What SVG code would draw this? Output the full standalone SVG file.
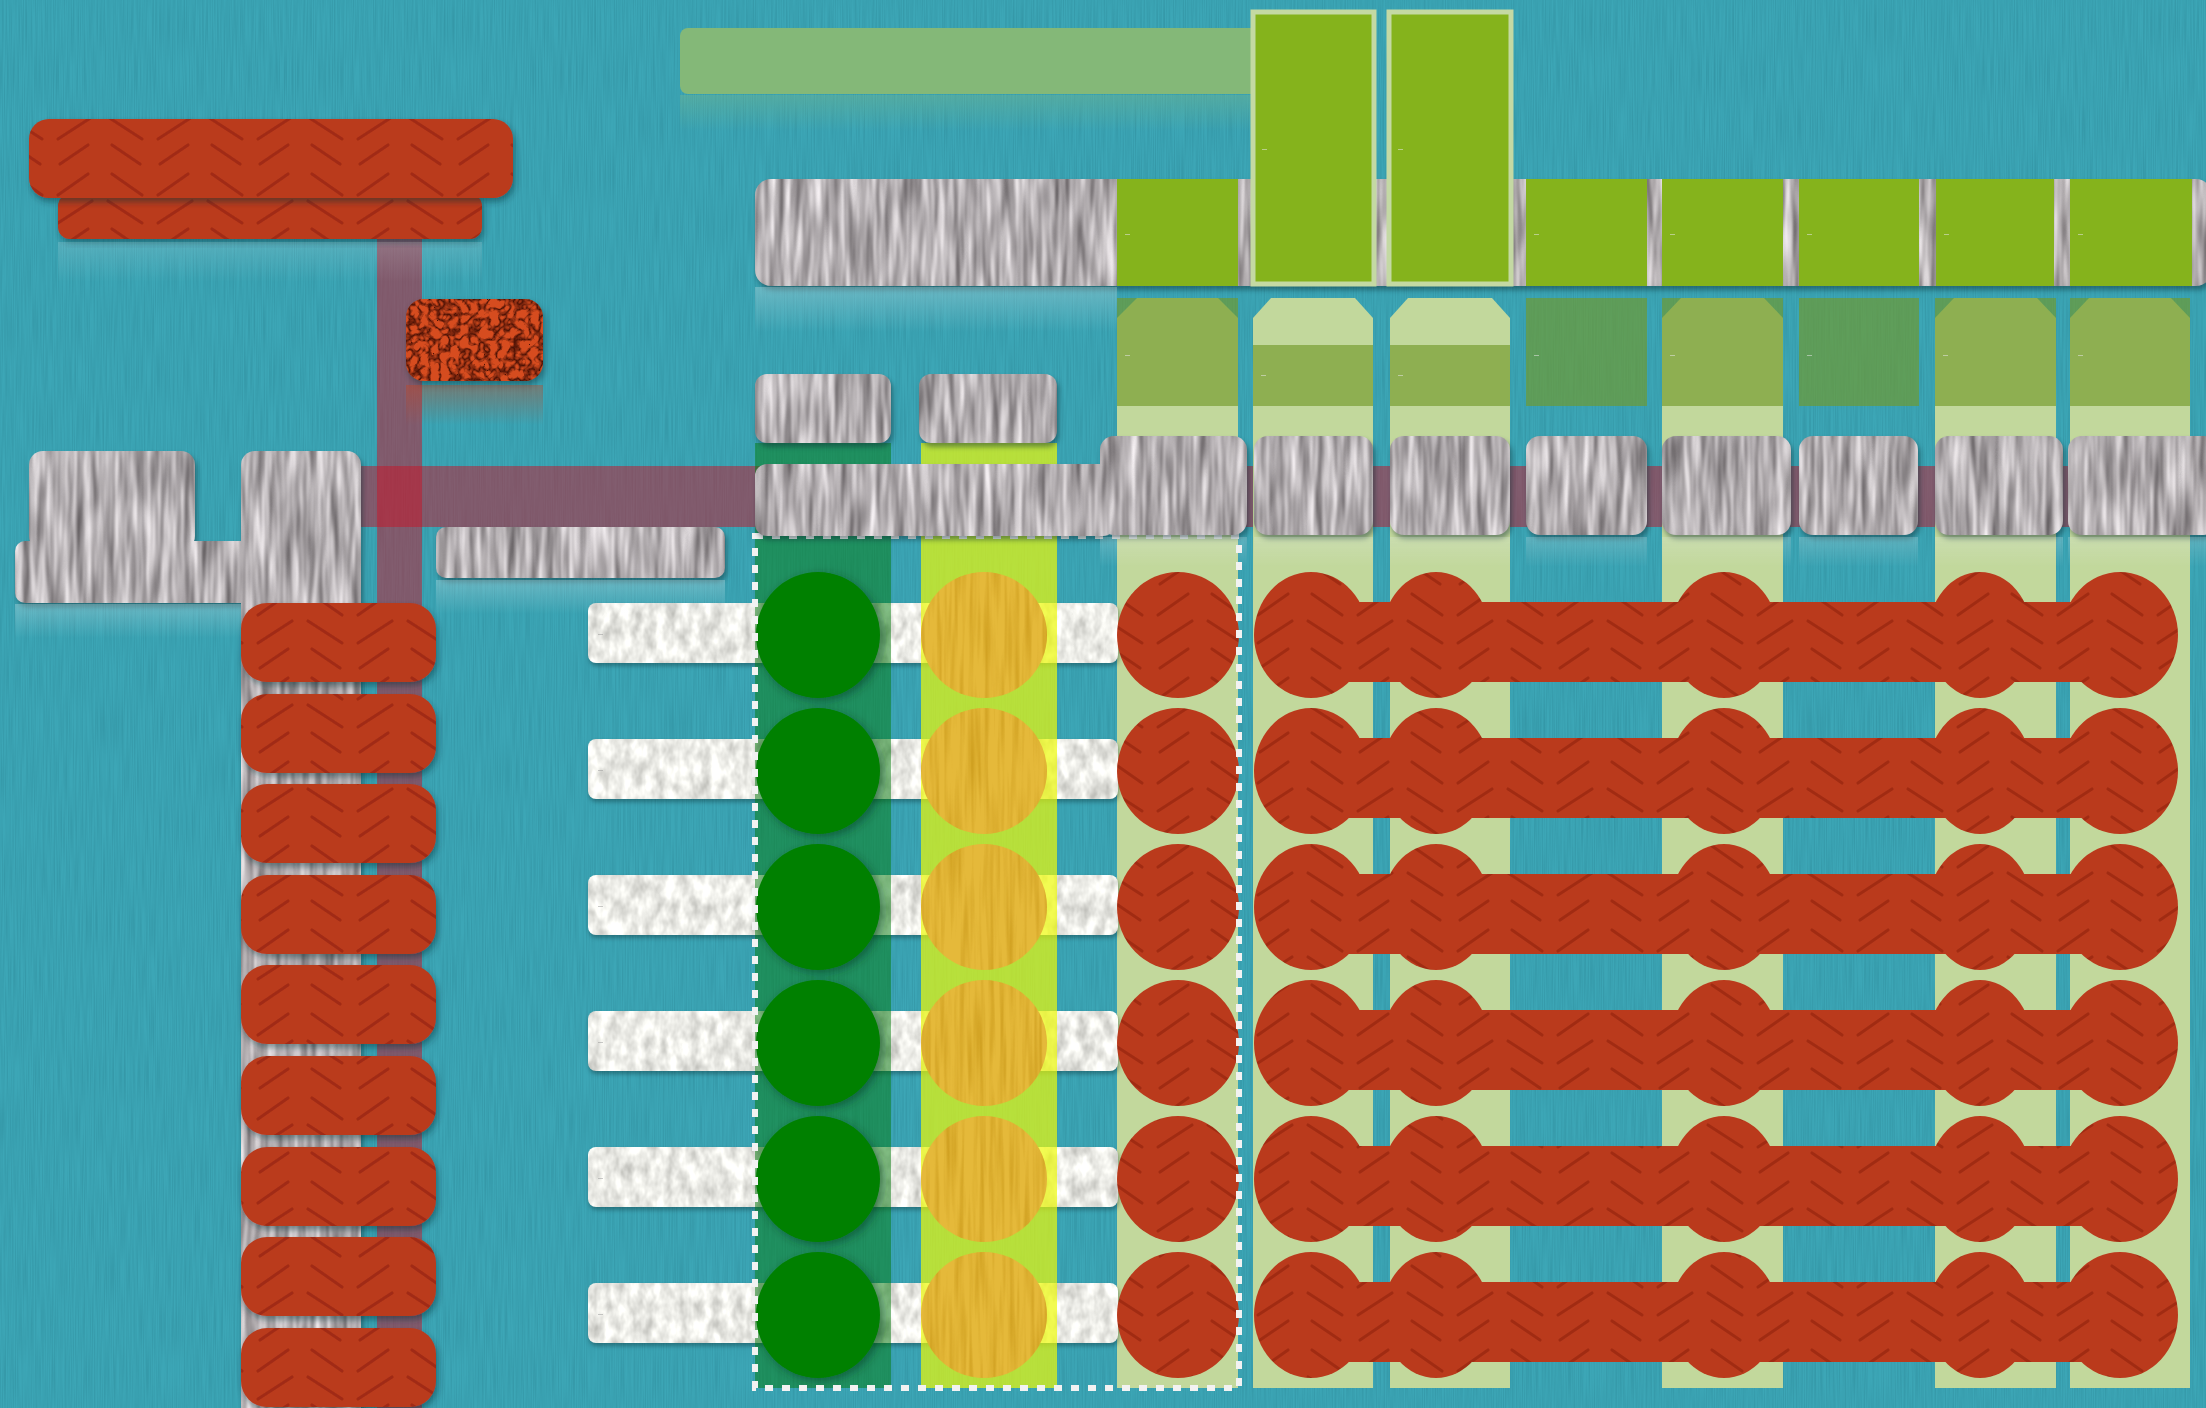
<svg xmlns="http://www.w3.org/2000/svg" width="2206" height="1408" viewBox="0 0 2206 1408">
<style>
.lb{font-family:"Liberation Sans",Arial,sans-serif;font-size:9px;fill:#e8e8e8;opacity:.8}
.gsq{fill:#85b31c}
.tall{fill:#85b31c;stroke:#c4d9a3;stroke-width:5}
.strp{fill:#c2d89c}
.ov{fill:#72992a;opacity:.65}
.wb{fill:#f1f1ef}
.rd{fill:url(#chev)}
.gc{fill:#008000}
.yc{fill:#e5b93a}
.band{fill:#c81428;opacity:.5}
.gray{fill:#aaa}
</style>
<defs>
<pattern id="chev" patternUnits="userSpaceOnUse" width="100" height="84">
<rect width="100" height="84" fill="#ba3a1c"/>
<g stroke="#97250e" stroke-width="3.2" stroke-linecap="round" fill="none" opacity=".7">
<path d="M12,6 L42,27 M8,33 L42,55 M12,61 L40,80 M58,27 L88,6 M58,55 L92,33 M60,80 L88,61"/>
</g>
</pattern>
<filter id="fGray" x="-3%" y="-5%" width="108%" height="125%" color-interpolation-filters="sRGB">
<feTurbulence type="fractalNoise" baseFrequency="0.13 0.014" numOctaves="2" seed="4" result="n"/>
<feColorMatrix in="n" type="matrix" values="0.75 0 0 0 0.32  0.75 0 0 0 0.3  0.75 0 0 0 0.31  0 0 0 0 1" result="g"/>
<feComposite in="g" in2="SourceAlpha" operator="in" result="t"/>
<feGaussianBlur in="SourceAlpha" stdDeviation="2.5" result="b"/>
<feOffset in="b" dx="2" dy="4" result="o"/>
<feFlood flood-color="#0a2a30" flood-opacity="0.45"/>
<feComposite in2="o" operator="in" result="s"/>
<feMerge><feMergeNode in="s"/><feMergeNode in="t"/></feMerge>
</filter>
<filter id="fWhite" x="-3%" y="-10%" width="106%" height="130%" color-interpolation-filters="sRGB">
<feTurbulence type="fractalNoise" baseFrequency="0.09 0.05" numOctaves="3" seed="11" result="n"/>
<feColorMatrix in="n" type="matrix" values="0.45 0 0 0 0.7  0.45 0 0 0 0.7  0.45 0 0 0 0.68  0 0 0 0 1" result="g"/>
<feComposite in="g" in2="SourceAlpha" operator="in" result="t"/>
<feGaussianBlur in="SourceAlpha" stdDeviation="2" result="b"/>
<feOffset in="b" dx="1" dy="3" result="o"/>
<feFlood flood-color="#0a2a30" flood-opacity="0.4"/>
<feComposite in2="o" operator="in" result="s"/>
<feMerge><feMergeNode in="s"/><feMergeNode in="t"/></feMerge>
</filter>
<filter id="fSh" x="-5%" y="-10%" width="110%" height="130%">
<feDropShadow dx="2" dy="4" stdDeviation="3" flood-color="#0a2a30" flood-opacity="0.45"/>
</filter>
<filter id="fBump" x="-10%" y="-10%" width="120%" height="130%" color-interpolation-filters="sRGB">
<feTurbulence type="turbulence" baseFrequency="0.1" numOctaves="2" seed="9" result="n"/>
<feColorMatrix in="n" type="matrix" values="0 0 0 0 0.3  0 0 0 0 0.07  0 0 0 0 0.02  -3.2 0 0 0 1.05" result="d"/>
<feComposite in="d" in2="SourceAlpha" operator="in" result="dd"/>
<feDropShadow in="SourceGraphic" dx="2" dy="4" stdDeviation="3" flood-color="#0a2a30" flood-opacity="0.45" result="sg"/>
<feMerge><feMergeNode in="sg"/><feMergeNode in="dd"/></feMerge>
</filter>
<filter id="fWood" x="0" y="0" width="100%" height="100%" color-interpolation-filters="sRGB">
<feTurbulence type="fractalNoise" baseFrequency="0.2 0.01" numOctaves="2" seed="5" result="n"/>
<feColorMatrix in="n" type="matrix" values="0 0 0 0 0.75  0 0 0 0 0.55  0 0 0 0 0.05  1.2 0 0 0 -0.5" result="d"/>
<feComposite in="d" in2="SourceAlpha" operator="in" result="dd"/>
<feMerge><feMergeNode in="SourceGraphic"/><feMergeNode in="dd"/></feMerge>
</filter>
<filter id="fStreak" x="0" y="0" width="100%" height="100%" color-interpolation-filters="sRGB">
<feTurbulence type="fractalNoise" baseFrequency="0.9 0.02" numOctaves="1" seed="2"/>
<feColorMatrix type="matrix" values="0 0 0 0 0.1  0 0 0 0 0.4  0 0 0 0 0.46  0.45 0 0 0 -0.15"/>
</filter>
<filter id="fGc" x="-20%" y="-20%" width="140%" height="140%">
<feDropShadow dx="3" dy="3" stdDeviation="5" flood-color="#04301a" flood-opacity="0.5"/>
</filter>
<linearGradient id="refl" x1="0" y1="0" x2="0" y2="1">
<stop offset="0" stop-color="#e6eef0" stop-opacity="0.28"/>
<stop offset="1" stop-color="#e6eef0" stop-opacity="0"/>
</linearGradient>
<linearGradient id="reflR" x1="0" y1="0" x2="0" y2="1">
<stop offset="0" stop-color="#c8441e" stop-opacity="0.4"/>
<stop offset="1" stop-color="#c8441e" stop-opacity="0"/>
</linearGradient>
<linearGradient id="reflG" x1="0" y1="0" x2="0" y2="1">
<stop offset="0" stop-color="#8cc080" stop-opacity="0.3"/>
<stop offset="1" stop-color="#8cc080" stop-opacity="0"/>
</linearGradient>
</defs>

<rect width="2206" height="1408" fill="#3ca6b6"/>
<rect width="2206" height="1408" filter="url(#fStreak)"/>

<g id="connectors">
<rect class="band" x="377" y="239" width="45" height="1169"/>
<rect class="band" x="361" y="466" width="1845" height="61"/>
</g>

<g id="column-lanes">
<path class="strp" d="M1117,318 L1137,298 L1218,298 L1238,318 V1388 H1117Z"/>
<path class="strp" d="M1253,318 L1271,298 L1355,298 L1373,318 V1388 H1253Z"/>
<path class="strp" d="M1390,318 L1408,298 L1492,298 L1510,318 V1388 H1390Z"/>
<path class="strp" d="M1662,318 L1681,298 L1764,298 L1783,318 V1388 H1662Z"/>
<path class="strp" d="M1935,318 L1954,298 L2037,298 L2056,318 V1388 H1935Z"/>
<path class="strp" d="M2070,318 L2089,298 L2171,298 L2190,318 V1388 H2070Z"/>
<rect class="ov" x="1117" y="298" width="121" height="108"/>
<rect class="ov" x="1253" y="345" width="120" height="61"/>
<rect class="ov" x="1390" y="345" width="120" height="61"/>
<rect class="ov" x="1526" y="298" width="121" height="108"/>
<rect class="ov" x="1662" y="298" width="121" height="108"/>
<rect class="ov" x="1799" y="298" width="120" height="108"/>
<rect class="ov" x="1935" y="298" width="121" height="108"/>
<rect class="ov" x="2070" y="298" width="120" height="108"/>
<text class="lb" x="1125" y="358">–</text>
<text class="lb" x="1261" y="378">–</text>
<text class="lb" x="1398" y="378">–</text>
<text class="lb" x="1534" y="358">–</text>
<text class="lb" x="1670" y="358">–</text>
<text class="lb" x="1807" y="358">–</text>
<text class="lb" x="1943" y="358">–</text>
<text class="lb" x="2078" y="358">–</text>
</g>

<g id="white-bars" filter="url(#fWhite)">
<rect class="wb" x="588" y="603" width="530" height="60" rx="8"/>
<rect class="wb" x="588" y="739" width="530" height="60" rx="8"/>
<rect class="wb" x="588" y="875" width="530" height="60" rx="8"/>
<rect class="wb" x="588" y="1011" width="530" height="60" rx="8"/>
<rect class="wb" x="588" y="1147" width="530" height="60" rx="8"/>
<rect class="wb" x="588" y="1283" width="530" height="60" rx="8"/>
</g>
<g id="white-labels">
<text class="lb" x="598" y="637" style="fill:#999">–</text>
<text class="lb" x="598" y="773" style="fill:#999">–</text>
<text class="lb" x="598" y="909" style="fill:#999">–</text>
<text class="lb" x="598" y="1045" style="fill:#999">–</text>
<text class="lb" x="598" y="1181" style="fill:#999">–</text>
<text class="lb" x="598" y="1317" style="fill:#999">–</text>
</g>

<g id="green-lane"><rect x="755" y="443" width="136" height="945" fill="#037c0c" opacity=".5"/></g>
<g id="yellow-lane"><rect x="921" y="443" width="136" height="945" fill="#edf908" opacity=".7"/></g>

<g id="green-circles" filter="url(#fGc)">
<ellipse class="gc" cx="818" cy="635" rx="62" ry="63"/>
<ellipse class="gc" cx="818" cy="771" rx="62" ry="63"/>
<ellipse class="gc" cx="818" cy="907" rx="62" ry="63"/>
<ellipse class="gc" cx="818" cy="1043" rx="62" ry="63"/>
<ellipse class="gc" cx="818" cy="1179" rx="62" ry="63"/>
<ellipse class="gc" cx="818" cy="1315" rx="62" ry="63"/>
</g>
<g id="yellow-circles" filter="url(#fWood)">
<ellipse class="yc" cx="984" cy="635" rx="63" ry="63"/>
<ellipse class="yc" cx="984" cy="771" rx="63" ry="63"/>
<ellipse class="yc" cx="984" cy="907" rx="63" ry="63"/>
<ellipse class="yc" cx="984" cy="1043" rx="63" ry="63"/>
<ellipse class="yc" cx="984" cy="1179" rx="63" ry="63"/>
<ellipse class="yc" cx="984" cy="1315" rx="63" ry="63"/>
</g>

<g id="red-rows">
<rect class="rd" x="1311" y="602" width="809" height="80"/>
<rect class="rd" x="1311" y="738" width="809" height="80"/>
<rect class="rd" x="1311" y="874" width="809" height="80"/>
<rect class="rd" x="1311" y="1010" width="809" height="80"/>
<rect class="rd" x="1311" y="1146" width="809" height="80"/>
<rect class="rd" x="1311" y="1282" width="809" height="80"/>
</g>
<g id="red-circles">
<ellipse class="rd" cx="1178" cy="635" rx="61" ry="63"/><ellipse class="rd" cx="1311" cy="635" rx="57" ry="63"/><ellipse class="rd" cx="1436" cy="635" rx="54" ry="63"/><ellipse class="rd" cx="1724" cy="635" rx="54" ry="63"/><ellipse class="rd" cx="1980" cy="635" rx="52" ry="63"/><ellipse class="rd" cx="2120" cy="635" rx="58" ry="63"/>
<ellipse class="rd" cx="1178" cy="771" rx="61" ry="63"/><ellipse class="rd" cx="1311" cy="771" rx="57" ry="63"/><ellipse class="rd" cx="1436" cy="771" rx="54" ry="63"/><ellipse class="rd" cx="1724" cy="771" rx="54" ry="63"/><ellipse class="rd" cx="1980" cy="771" rx="52" ry="63"/><ellipse class="rd" cx="2120" cy="771" rx="58" ry="63"/>
<ellipse class="rd" cx="1178" cy="907" rx="61" ry="63"/><ellipse class="rd" cx="1311" cy="907" rx="57" ry="63"/><ellipse class="rd" cx="1436" cy="907" rx="54" ry="63"/><ellipse class="rd" cx="1724" cy="907" rx="54" ry="63"/><ellipse class="rd" cx="1980" cy="907" rx="52" ry="63"/><ellipse class="rd" cx="2120" cy="907" rx="58" ry="63"/>
<ellipse class="rd" cx="1178" cy="1043" rx="61" ry="63"/><ellipse class="rd" cx="1311" cy="1043" rx="57" ry="63"/><ellipse class="rd" cx="1436" cy="1043" rx="54" ry="63"/><ellipse class="rd" cx="1724" cy="1043" rx="54" ry="63"/><ellipse class="rd" cx="1980" cy="1043" rx="52" ry="63"/><ellipse class="rd" cx="2120" cy="1043" rx="58" ry="63"/>
<ellipse class="rd" cx="1178" cy="1179" rx="61" ry="63"/><ellipse class="rd" cx="1311" cy="1179" rx="57" ry="63"/><ellipse class="rd" cx="1436" cy="1179" rx="54" ry="63"/><ellipse class="rd" cx="1724" cy="1179" rx="54" ry="63"/><ellipse class="rd" cx="1980" cy="1179" rx="52" ry="63"/><ellipse class="rd" cx="2120" cy="1179" rx="58" ry="63"/>
<ellipse class="rd" cx="1178" cy="1315" rx="61" ry="63"/><ellipse class="rd" cx="1311" cy="1315" rx="57" ry="63"/><ellipse class="rd" cx="1436" cy="1315" rx="54" ry="63"/><ellipse class="rd" cx="1724" cy="1315" rx="54" ry="63"/><ellipse class="rd" cx="1980" cy="1315" rx="52" ry="63"/><ellipse class="rd" cx="2120" cy="1315" rx="58" ry="63"/>
</g>

<rect id="group-frame" x="755" y="536" width="484" height="852" fill="none" stroke="#f2f2f2" stroke-width="6" stroke-dasharray="8 9"/>

<g id="top-green-bar"><rect x="680" y="28" width="580" height="66" rx="8" fill="#84b878"/></g>
<rect x="680" y="95" width="572" height="36" fill="url(#reflG)"/>

<g id="top-gray-bar"><rect class="gray" x="755" y="179" width="1457" height="107" rx="16" filter="url(#fGray)"/></g>
<rect x="755" y="287" width="362" height="45" fill="url(#refl)"/>
<g id="top-squares">
<rect class="gsq" x="1117" y="179" width="121" height="107"/>
<rect class="gsq" x="1526" y="179" width="121" height="107"/>
<rect class="gsq" x="1662" y="179" width="121" height="107"/>
<rect class="gsq" x="1799" y="179" width="120" height="107"/>
<rect class="gsq" x="1936" y="179" width="118" height="107"/>
<rect class="gsq" x="2070" y="179" width="122" height="107"/>
<text class="lb" x="1125" y="237">–</text>
<text class="lb" x="1534" y="237">–</text>
<text class="lb" x="1670" y="237">–</text>
<text class="lb" x="1807" y="237">–</text>
<text class="lb" x="1944" y="237">–</text>
<text class="lb" x="2078" y="237">–</text>
</g>
<g id="tall-box-1"><rect class="tall" x="1253" y="12" width="121" height="272"/><text class="lb" x="1262" y="152">–</text></g>
<g id="tall-box-2"><rect class="tall" x="1389" y="12" width="122" height="272"/><text class="lb" x="1398" y="152">–</text></g>

<g id="row2-tiles" filter="url(#fGray)">
<rect class="gray" x="755" y="374" width="136" height="69" rx="12"/>
<rect class="gray" x="919" y="374" width="138" height="69" rx="12"/>
<rect class="gray" x="755" y="464" width="360" height="72" rx="12"/>
<rect class="gray" x="1100" y="436" width="147" height="99" rx="14"/>
<rect class="gray" x="1254" y="436" width="119" height="99" rx="14"/>
<rect class="gray" x="1390" y="436" width="120" height="99" rx="14"/>
<rect class="gray" x="1526" y="436" width="121" height="99" rx="14"/>
<rect class="gray" x="1662" y="436" width="129" height="99" rx="14"/>
<rect class="gray" x="1799" y="436" width="119" height="99" rx="14"/>
<rect class="gray" x="1935" y="436" width="128" height="99" rx="14"/>
<rect class="gray" x="2068" y="436" width="150" height="99" rx="14"/>
</g>
<g id="row2-reflections" opacity=".8">
<rect x="1100" y="537" width="147" height="30" fill="url(#refl)"/>
<rect x="1254" y="537" width="119" height="30" fill="url(#refl)"/>
<rect x="1390" y="537" width="120" height="30" fill="url(#refl)"/>
<rect x="1526" y="537" width="121" height="30" fill="url(#refl)"/>
<rect x="1662" y="537" width="129" height="30" fill="url(#refl)"/>
<rect x="1799" y="537" width="119" height="30" fill="url(#refl)"/>
<rect x="1935" y="537" width="128" height="30" fill="url(#refl)"/>
<rect x="2068" y="537" width="138" height="30" fill="url(#refl)"/>
</g>

<g id="left-tiles" filter="url(#fGray)">
<rect class="gray" x="15" y="541" width="240" height="62" rx="10"/>
<rect class="gray" x="29" y="451" width="166" height="99" rx="14"/>
<rect class="gray" x="241" y="451" width="120" height="980" rx="14"/>
<rect class="gray" x="436" y="527" width="289" height="51" rx="10"/>
</g>
<rect x="15" y="604" width="226" height="34" fill="url(#refl)"/>
<rect x="436" y="580" width="289" height="34" fill="url(#refl)"/>

<g id="red-tiles" filter="url(#fSh)">
<rect class="rd" x="241" y="603" width="195" height="79" rx="26"/>
<rect class="rd" x="241" y="694" width="195" height="79" rx="26"/>
<rect class="rd" x="241" y="784" width="195" height="79" rx="26"/>
<rect class="rd" x="241" y="875" width="195" height="79" rx="26"/>
<rect class="rd" x="241" y="965" width="195" height="79" rx="26"/>
<rect class="rd" x="241" y="1056" width="195" height="79" rx="26"/>
<rect class="rd" x="241" y="1147" width="195" height="79" rx="26"/>
<rect class="rd" x="241" y="1237" width="195" height="79" rx="26"/>
<rect class="rd" x="241" y="1328" width="195" height="79" rx="26"/>
</g>

<g id="red-header-2"><rect class="rd" x="58" y="194" width="424" height="45" rx="12" filter="url(#fSh)"/></g>
<rect x="58" y="242" width="424" height="40" fill="url(#refl)" opacity=".6"/>
<g id="red-header-1"><rect class="rd" x="29" y="119" width="484" height="79" rx="20" filter="url(#fSh)"/></g>
<g id="red-chip"><rect x="406" y="299" width="137" height="82" rx="18" fill="#d64c1f" filter="url(#fBump)"/></g>
<rect x="406" y="385" width="137" height="40" fill="url(#reflR)"/>
</svg>
